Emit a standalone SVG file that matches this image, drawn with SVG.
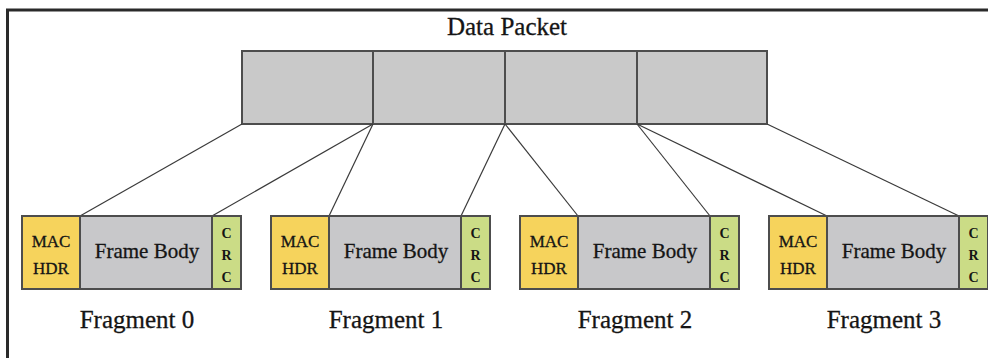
<svg xmlns="http://www.w3.org/2000/svg" width="988" height="358" viewBox="0 0 988 358">
  <style>
    .frame { fill: none; stroke: #2a2a2a; stroke-width: 3; }
    .cell { stroke: #4d4d4d; stroke-width: 2; }
    .pkt { fill: #c9c9c9; }
    .mac { fill: #f6d35c; }
    .body { fill: #c8c8ca; }
    .crc { fill: #cbdc86; }
    .link { stroke: #3a3a3a; stroke-width: 1.2; fill: none; }
    text { font-family: "Liberation Serif", "DejaVu Serif", serif; fill: #151515; text-anchor: middle; stroke: #151515; stroke-width: 0.3; }
    .title { font-size: 25px; }
    .lbl { font-size: 21px; }
    .hdr { font-size: 17px; }
    .crct { font-size: 14px; font-weight: bold; stroke-width: 0; }
    .frag { font-size: 25px; }
  </style>

  <!-- outer border (top and left edges) -->
  <path class="frame" d="M988,10 H7.5 V358"/>

  <!-- data packet -->
  <g id="packet">
    <text class="title" x="507" y="35">Data Packet</text>
    <rect class="cell pkt" x="242" y="51" width="131" height="73"/>
    <rect class="cell pkt" x="373" y="51" width="132" height="73"/>
    <rect class="cell pkt" x="505" y="51" width="132" height="73"/>
    <rect class="cell pkt" x="637" y="51" width="130" height="73"/>
  </g>

  <!-- connectors from packet segments to fragment bodies -->
  <g id="connectors">
    <line class="link" x1="242" y1="124" x2="80" y2="216"/>
    <line class="link" x1="373" y1="124" x2="212" y2="216"/>
    <line class="link" x1="373" y1="124" x2="329" y2="216"/>
    <line class="link" x1="505" y1="124" x2="461" y2="216"/>
    <line class="link" x1="505" y1="124" x2="578" y2="216"/>
    <line class="link" x1="637" y1="124" x2="710" y2="216"/>
    <line class="link" x1="637" y1="124" x2="827" y2="216"/>
    <line class="link" x1="767" y1="124" x2="959" y2="216"/>
  </g>

  <g id="fragment0">
    <rect class="cell mac" x="22" y="216" width="58" height="73"/>
    <rect class="cell body" x="80" y="216" width="132" height="73"/>
    <rect class="cell crc" x="212" y="216" width="29" height="73"/>
    <text class="hdr" x="51" y="247">MAC</text>
    <text class="hdr" x="51" y="274">HDR</text>
    <text class="lbl" x="147" y="258">Frame Body</text>
    <text class="crct" x="226.5" y="238">C</text>
    <text class="crct" x="226.5" y="260">R</text>
    <text class="crct" x="226.5" y="282">C</text>
    <text class="frag" x="137" y="328">Fragment 0</text>
  </g>

  <g id="fragment1">
    <rect class="cell mac" x="271" y="216" width="58" height="73"/>
    <rect class="cell body" x="329" y="216" width="132" height="73"/>
    <rect class="cell crc" x="461" y="216" width="29" height="73"/>
    <text class="hdr" x="300" y="247">MAC</text>
    <text class="hdr" x="300" y="274">HDR</text>
    <text class="lbl" x="396" y="258">Frame Body</text>
    <text class="crct" x="475.5" y="238">C</text>
    <text class="crct" x="475.5" y="260">R</text>
    <text class="crct" x="475.5" y="282">C</text>
    <text class="frag" x="386" y="328">Fragment 1</text>
  </g>

  <g id="fragment2">
    <rect class="cell mac" x="520" y="216" width="58" height="73"/>
    <rect class="cell body" x="578" y="216" width="132" height="73"/>
    <rect class="cell crc" x="710" y="216" width="29" height="73"/>
    <text class="hdr" x="549" y="247">MAC</text>
    <text class="hdr" x="549" y="274">HDR</text>
    <text class="lbl" x="645" y="258">Frame Body</text>
    <text class="crct" x="724.5" y="238">C</text>
    <text class="crct" x="724.5" y="260">R</text>
    <text class="crct" x="724.5" y="282">C</text>
    <text class="frag" x="635" y="328">Fragment 2</text>
  </g>

  <g id="fragment3">
    <rect class="cell mac" x="769" y="216" width="58" height="73"/>
    <rect class="cell body" x="827" y="216" width="132" height="73"/>
    <rect class="cell crc" x="959" y="216" width="29" height="73"/>
    <text class="hdr" x="798" y="247">MAC</text>
    <text class="hdr" x="798" y="274">HDR</text>
    <text class="lbl" x="894" y="258">Frame Body</text>
    <text class="crct" x="973.5" y="238">C</text>
    <text class="crct" x="973.5" y="260">R</text>
    <text class="crct" x="973.5" y="282">C</text>
    <text class="frag" x="884" y="328">Fragment 3</text>
  </g>
</svg>
